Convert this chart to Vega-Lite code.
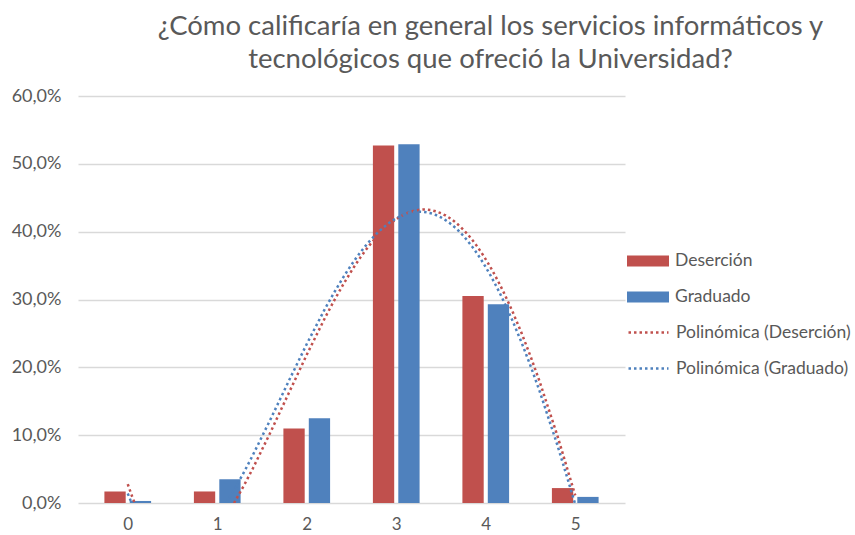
{
  "$schema": "https://vega.github.io/schema/vega-lite/v6.json",
  "autosize": {"type": "none"},
  "width": 547,
  "height": 407,
  "padding": {"left": 78, "top": 96, "right": 230, "bottom": 32},
  "background": "white",
  "config": {
    "locale": {"number": {"decimal": ",", "thousands": ".", "grouping": [3], "currency": ["", " €"]}},
    "view": {"stroke": null},
    "font": "Lato"
  },
  "title": {
    "text": ["¿Cómo calificaría en general los servicios informáticos y", "tecnológicos que ofreció la Universidad?"],
    "font": "Lato",
    "fontSize": 27.5,
    "fontWeight": "normal",
    "color": "#595959",
    "anchor": "middle",
    "dx": 139,
    "lineHeight": 33,
    "offset": 14
  },
  "data": {
    "values": [
      {"cat": 0, "serie": "Deserción", "tend": "Polinómica (Deserción)", "valor": 0.017},
      {"cat": 1, "serie": "Deserción", "tend": "Polinómica (Deserción)", "valor": 0.017},
      {"cat": 2, "serie": "Deserción", "tend": "Polinómica (Deserción)", "valor": 0.110},
      {"cat": 3, "serie": "Deserción", "tend": "Polinómica (Deserción)", "valor": 0.527},
      {"cat": 4, "serie": "Deserción", "tend": "Polinómica (Deserción)", "valor": 0.305},
      {"cat": 5, "serie": "Deserción", "tend": "Polinómica (Deserción)", "valor": 0.022},
      {"cat": 0, "serie": "Graduado", "tend": "Polinómica (Graduado)", "valor": 0.003},
      {"cat": 1, "serie": "Graduado", "tend": "Polinómica (Graduado)", "valor": 0.035},
      {"cat": 2, "serie": "Graduado", "tend": "Polinómica (Graduado)", "valor": 0.125},
      {"cat": 3, "serie": "Graduado", "tend": "Polinómica (Graduado)", "valor": 0.529},
      {"cat": 4, "serie": "Graduado", "tend": "Polinómica (Graduado)", "valor": 0.293},
      {"cat": 5, "serie": "Graduado", "tend": "Polinómica (Graduado)", "valor": 0.009}
    ]
  },
  "encoding": {
    "x": {
      "field": "cat", "type": "quantitative",
      "scale": {"domain": [-0.5, 5.5], "nice": false, "zero": false},
      "axis": {
        "orient": "bottom",
        "title": null, "values": [0, 1, 2, 3, 4, 5], "format": "d", "grid": false,
        "domain": false, "ticks": false,
        "labelFont": "Lato", "labelFontSize": 17, "labelColor": "#595959", "labelPadding": 13
      }
    },
    "y": {
      "field": "valor", "type": "quantitative",
      "scale": {"domain": [0, 0.6], "nice": false},
      "axis": {
        "title": null, "format": ".1%", "values": [0, 0.1, 0.2, 0.3, 0.4, 0.5, 0.6],
        "domain": false, "ticks": false, "gridColor": "#D9D9D9", "gridWidth": 1.3,
        "labelFont": "Lato", "labelFontSize": 18, "labelColor": "#595959", "labelPadding": 17
      }
    }
  },
  "layer": [
    {
      "transform": [{"filter": "datum.serie === 'Deserción'"}],
      "mark": {"type": "bar", "width": 21.3, "xOffset": -12.7},
      "encoding": {
        "fill": {
          "field": "serie", "type": "nominal",
          "scale": {"domain": ["Deserción", "Graduado"], "range": ["#C0504D", "#4F81BD"]},
          "legend": {
            "title": null, "orient": "none", "legendX": 549, "legendY": 144,
            "padding": 0, "labelFont": "Lato", "labelFontSize": 17.5, "labelColor": "#595959", "labelLimit": 300,
            "symbolType": "M-1,-0.26H1V0.26H-1Z", "symbolSize": 1764, "symbolStrokeWidth": 0,
            "symbolOpacity": 1, "rowPadding": 6, "labelOffset": 6
          }
        }
      }
    },
    {
      "transform": [{"filter": "datum.serie === 'Graduado'"}],
      "mark": {"type": "bar", "width": 21.3, "xOffset": 12.7},
      "encoding": {
        "fill": {"field": "serie", "type": "nominal"}
      }
    },
    {
      "transform": [
        {"regression": "valor", "on": "cat", "method": "poly", "order": 4, "groupby": ["tend"]}
      ],
      "mark": {"type": "line", "clip": true, "strokeWidth": 2.5, "strokeDash": [2.5, 3]},
      "encoding": {
        "stroke": {
          "field": "tend", "type": "nominal",
          "scale": {"domain": ["Polinómica (Deserción)", "Polinómica (Graduado)"], "range": ["#C0504D", "#4F81BD"]},
          "legend": {
            "title": null, "orient": "none", "legendX": 549, "legendY": 215,
            "padding": 0, "labelFont": "Lato", "labelFontSize": 17.5, "labelColor": "#595959", "labelLimit": 300,
            "symbolType": "stroke", "symbolSize": 1600, "symbolStrokeWidth": 2.5,
            "symbolDash": [2.5, 3], "symbolOpacity": 1, "rowPadding": 6, "labelOffset": 6
          }
        }
      }
    }
  ]
}
